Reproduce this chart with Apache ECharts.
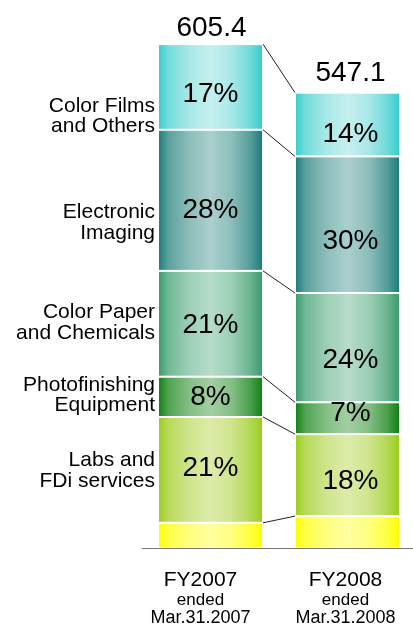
<!DOCTYPE html>
<html>
<head>
<meta charset="utf-8">
<title>Sales by segment</title>
<script src="https://cdn.jsdelivr.net/npm/echarts@6/dist/echarts.min.js"></script>
<style>
  html, body { margin: 0; padding: 0; background: #fff; }
  #chart { width: 413px; height: 624px; }
</style>
</head>
<body>
<div id="chart"></div>
<script>
// Fiscal years on the x axis
const categories = ['FY2007', 'FY2008'];
const periodEnds = ['Mar.31.2007', 'Mar.31.2008'];
// Total sales per year (billion yen)
const totals = [605.4, 547.1];
// Business segments, listed top to bottom as stacked
const segments = [
  'Color Films\nand Others',
  'Electronic\nImaging',
  'Color Paper\nand Chemicals',
  'Photofinishing\nEquipment',
  'Labs and\nFDi services'
];
// Share of total (%) per segment, same order as segments
const sharesFY2007 = [17, 28, 21, 8, 21];
const sharesFY2008 = [14, 30, 24, 7, 18];

// Edge / highlight colours for the cylinder-like fills (top to bottom, then the unlabeled base)
const palette = [
  ['#33CCCC', '#C6EFEF'],
  ['#1A7B78', '#AACFCC'],
  ['#379A6A', '#B6DCC9'],
  ['#0E7F12', '#A2CFA2'],
  ['#99CC1A', '#DDEBAA'],
  ['#FFFF00', '#FFFFA0']
];

const FONT = '"Liberation Sans", Arial, sans-serif';
const BAR_W = 105;

function mix(a, b, t) {
  const pa = [1, 3, 5].map(i => parseInt(a.substr(i, 2), 16));
  const pb = [1, 3, 5].map(i => parseInt(b.substr(i, 2), 16));
  return 'rgb(' + pa.map((v, i) => Math.round(v + (pb[i] - v) * t)).join(',') + ')';
}
function cylinder(edge, light) {
  return {
    type: 'linear', x: 0, y: 0, x2: 1, y2: 0,
    colorStops: [
      { offset: 0, color: edge },
      { offset: 0.1, color: mix(edge, light, 0.45) },
      { offset: 0.3, color: mix(edge, light, 0.8) },
      { offset: 0.5, color: light },
      { offset: 0.7, color: mix(edge, light, 0.8) },
      { offset: 0.88, color: mix(edge, light, 0.4) },
      { offset: 1, color: edge }
    ]
  };
}

// Shares with the unlabeled remainder appended at the bottom
const shareTable = [sharesFY2007, sharesFY2008].map(s => s.concat([100 - s.reduce((a, b) => a + b, 0)]));
// Values in billion yen for each stacked piece
const valueTable = shareTable.map((s, c) => s.map(p => totals[c] * p / 100));

// Nudge of the percentage labels inside each piece [dx, dy]
const labelNudge = [
  [[0, 7], [0, 10], [0, 2], [0, 0], [0, -2]],
  [[3, 10], [3, 17], [3, 13], [3, -5], [3, 6]]
];

const n = segments.length + 1;
const barSeries = [];
// Build stack from the bottom up
for (let k = n - 1; k >= 0; k--) {
  const labeled = k < segments.length;
  barSeries.push({
    type: 'bar',
    name: labeled ? segments[k] : 'Other',
    stack: 'sales',
    barWidth: BAR_W,
    itemStyle: { color: cylinder(palette[k][0], palette[k][1]), borderColor: '#fff', borderWidth: 1 },
    data: categories.map((c, ci) => ({
      value: valueTable[ci][k],
      label: labeled ? {
        show: true,
        position: 'inside',
        offset: labelNudge[ci][k],
        formatter: shareTable[ci][k] + '%',
        fontSize: 28,
        fontFamily: FONT,
        color: '#000'
      } : { show: false }
    })),
    emphasis: { disabled: true },
    silent: true
  });
}

// Cumulative boundaries for the connector lines between the two bars
const boundaries = [];
for (let j = 1; j <= n; j++) {
  const cum = valueTable.map(v => v.slice(n - j).reduce((a, b) => a + b, 0));
  boundaries.push([0, cum[0], cum[1]]);
}

const chart = echarts.init(document.getElementById('chart'), null, { renderer: 'canvas' });
chart.setOption({
  backgroundColor: '#fff',
  animation: false,
  grid: { left: 142, right: -3, top: 7, bottom: 76, containLabel: false, outerBoundsMode: 'none' },
  xAxis: {
    type: 'category',
    data: categories,
    axisTick: { show: false },
    axisLine: { lineStyle: { color: '#777', width: 1 } },
    axisLabel: {
      margin: 21,
      interval: 0,
      formatter: (v, i) => {
        const s = i === 0 ? '0' : '1';
        return '{a' + s + '|' + v + '}\n{b' + s + '|ended}\n{c' + s + '|' + periodEnds[i] + '}';
      },
      rich: {
        a0: { fontSize: 21, lineHeight: 22, fontFamily: FONT, color: '#000', padding: [0, 20, 0, 0] },
        b0: { fontSize: 17, lineHeight: 18, fontFamily: FONT, color: '#000', padding: [0, 20, 0, 0] },
        c0: { fontSize: 18, lineHeight: 18, fontFamily: FONT, color: '#000', padding: [0, 20, 0, 0] },
        a1: { fontSize: 21, lineHeight: 22, fontFamily: FONT, color: '#000', padding: [0, 4, 0, 0] },
        b1: { fontSize: 17, lineHeight: 18, fontFamily: FONT, color: '#000', padding: [0, 4, 0, 0] },
        c1: { fontSize: 18, lineHeight: 18, fontFamily: FONT, color: '#000', padding: [0, 4, 0, 0] }
      }
    }
  },
  yAxis: { type: 'value', min: 0, max: 650, show: false, splitLine: { show: false } },
  series: barSeries.concat([
    {
      type: 'custom',
      name: 'connectors',
      silent: true,
      encode: { x: 0, y: [1, 2] },
      data: boundaries,
      renderItem: (params, api) => {
        const a = api.coord([0, api.value(1)]);
        const b = api.coord([1, api.value(2)]);
        return {
          type: 'line',
          shape: { x1: a[0] + BAR_W / 2, y1: a[1], x2: b[0] - BAR_W / 2, y2: b[1] },
          style: { stroke: '#222', lineWidth: 1 }
        };
      }
    },
    {
      type: 'scatter',
      name: 'total',
      silent: true,
      symbolSize: 1,
      itemStyle: { color: 'rgba(0,0,0,0)', opacity: 1 },
      data: totals.map((t, i) => ({
        value: [i, t],
        label: { offset: i === 0 ? [1, -1] : [3, -5] }
      })),
      label: {
        show: true,
        position: 'top',
        distance: 0,
        formatter: p => p.value[1].toFixed(1),
        fontSize: 28,
        lineHeight: 28,
        fontFamily: FONT,
        color: '#000',
        opacity: 1
      }
    }
  ]),
  graphic: [
    { y: 116, text: segments[0] },
    { y: 222.8, text: segments[1] },
    { y: 322.7, text: segments[2] },
    { y: 395.2, text: segments[3] },
    { y: 470.5, text: segments[4] }
  ].map(g => ({
    type: 'text',
    x: 155,
    y: g.y,
    silent: true,
    style: {
      text: g.text,
      align: 'right',
      verticalAlign: 'middle',
      fontSize: 21,
      lineHeight: 20.5,
      fontFamily: FONT,
      fill: '#000'
    }
  }))
});
</script>
</body>
</html>
